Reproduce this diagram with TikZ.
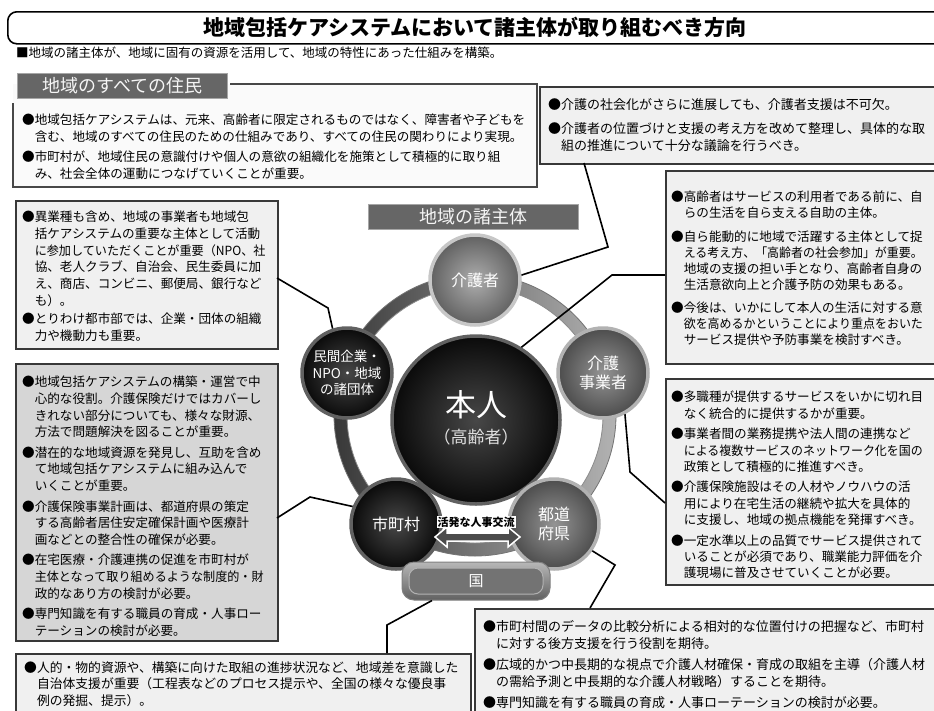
\documentclass[tikz,border=0pt]{standalone}
\usepackage{fontspec}
\usepackage{graphicx}
\setmainfont{Noto Sans CJK JP}
\usetikzlibrary{calc}
\newcommand\ind{\phantom{●}}
\newcommand\fs[2]{\fontsize{#1}{#2}\selectfont}
\newcommand\sq[2][0.95]{\scalebox{#1}[1]{#2}}
\begin{document}
\begin{tikzpicture}[x=1pt,y=-1pt,
  cbox/.style={draw=black!78, line width=1.8pt, fill=black!6, anchor=north west, inner sep=0pt},
  txt/.style={anchor=north west, align=left, inner sep=0pt},
  conn/.style={draw=black, line width=1.6pt},
  sat/.style n args={3}{circle, minimum size=90pt, inner sep=0pt, text=white, align=center,
     font=\fs{16}{19}, draw=#3, line width=3.5pt, inner color=#1, outer color=#2},
  lbl/.style={fill=black!60, draw=black!35, line width=1pt, text=black!4, inner sep=0pt}
]
\clip (0,0) rectangle (934,710);
\fill[white] (0,0) rectangle (934,710);

% title
\node[draw=black, line width=1.6pt, rounded corners=9pt, minimum width=950pt, minimum height=32pt,
      anchor=north west, inner sep=0pt] (titlebox) at (7,11) {};
\node[font=\fs{21}{24}\bfseries] (title) at (475,27) {地域包括ケアシステムにおいて諸主体が取り組むべき方向};
\node[anchor=west, font=\fs{12.5}{14}, inner sep=0pt] (sub) at (16,53)
  {■地域の諸主体が、地域に固有の資源を活用して、地域の特性にあった仕組みを構築。};

% residents box
\fill[black!2] (13,84) rectangle (537,187);
\draw[black!72, line width=1.8pt] (230,84) -- (537,84) -- (537,187) -- (13,187) -- (13,103);
\node[lbl, minimum width=210pt, minimum height=25pt, anchor=north west, font=\fs{18}{20}] (reslabel) at (17,73) {地域のすべての住民};
\node[txt, font=\fs{12.6}{16.8}] (restxt) at (22,114) {●地域包括ケアシステムは、元来、高齢者に限定されるものではなく、障害者や子どもを\\\ind 含む、地域のすべての住民のための仕組みであり、すべての住民の関わりにより実現。\\[3.4pt]●市町村が、地域住民の意識付けや個人の意欲の組織化を施策として積極的に取り組\\\ind み、社会全体の運動につなげていくことが重要。};

% caregiver box
\node[cbox, minimum width=406pt, minimum height=77pt] (kbox) at (539,86) {};
\node[txt, font=\fs{13}{16.5}] (ktxt) at (548,98) {●介護の社会化がさらに進展しても、介護者支援は不可欠。\\[8pt]●介護者の位置づけと支援の考え方を改めて整理し、具体的な取\\\ind 組の推進について十分な議論を行うべき。};

% private sector box
\node[cbox, minimum width=262pt, minimum height=148pt] (mbox) at (15,200) {};
\node[txt, font=\fs{12.6}{16.7}] (mtxt) at (22,211) {●異業種も含め、地域の事業者も地域包\\\ind 括ケアシステムの重要な主体として活動\\\ind \sq[0.96]{に参加していただくことが重要（NPO、社}\\\ind 協、老人クラブ、自治会、民生委員に加\\\ind え、商店、コンビニ、郵便局、銀行など\\\ind も）。\\[1.5pt]●とりわけ都市部では、企業・団体の組織\\\ind 力や機動力も重要。};

% municipality box
\node[cbox, fill=black!16, minimum width=262pt, minimum height=277pt] (sbox) at (15,363) {};
\node[txt, font=\fs{12.6}{16.6}] (stxt) at (22,376) {●地域包括ケアシステムの構築・運営で中\\\ind 心的な役割。介護保険だけではカバーし\\\ind きれない部分についても、様々な財源、\\\ind 方法で問題解決を図ることが重要。\\[4pt]●潜在的な地域資源を発見し、互助を含め\\\ind て地域包括ケアシステムに組み込んで\\\ind いくことが重要。\\[4pt]●介護保険事業計画は、都道府県の策定\\\ind する高齢者居住安定確保計画や医療計\\\ind 画などとの整合性の確保が必要。\\[4pt]●在宅医療・介護連携の促進を市町村が\\\ind \sq[0.96]{主体となって取り組めるような制度的・財}\\\ind 政的なあり方の検討が必要。\\[4pt]●専門知識を有する職員の育成・人事ロー\\\ind テーションの検討が必要。};

% elderly box
\node[cbox, minimum width=280pt, minimum height=193pt] (hbox) at (665,170) {};
\node[txt, font=\fs{12.6}{16}] (htxt) at (671,191) {●高齢者はサービスの利用者である前に、自\\\ind らの生活を自ら支える自助の主体。\\[7.5pt]●自ら能動的に地域で活躍する主体として捉\\\ind \sq{える考え方、「高齢者の社会参加」が重要。}\\\ind 地域の支援の担い手となり、高齢者自身の\\\ind 生活意欲向上と介護予防の効果もある。\\[7.5pt]●今後は、いかにして本人の生活に対する意\\\ind \sq{欲を高めるかということにより重点をおいた}\\\ind サービス提供や予防事業を検討すべき。};

% care provider box
\node[cbox, minimum width=280pt, minimum height=206pt] (jbox) at (665,378) {};
\node[txt, font=\fs{12.6}{16.4}] (jtxt) at (671,391) {●多職種が提供するサービスをいかに切れ目\\\ind なく統合的に提供するかが重要。\\[4pt]●事業者間の業務提携や法人間の連携など\\\ind \sq{による複数サービスのネットワーク化を国の}\\\ind 政策として積極的に推進すべき。\\[4pt]●介護保険施設はその人材やノウハウの活\\\ind 用により在宅生活の継続や拡大を具体的\\\ind に支援し、地域の拠点機能を発揮すべき。\\[4pt]●一定水準以上の品質でサービス提供されて\\\ind いることが必須であり、職業能力評価を介\\\ind 護現場に普及させていくことが必要。};

% prefecture box
\node[cbox, minimum width=471pt, minimum height=112pt] (tbox) at (474,608) {};
\node[txt, font=\fs{13}{17}] (ttxt) at (483,620) {●市町村間のデータの比較分析による相対的な位置付けの把握など、市町村\\\ind に対する後方支援を行う役割を期待。\\[4pt]●広域的かつ中長期的な視点で介護人材確保・育成の取組を主導（介護人材\\\ind の需給予測と中長期的な介護人材戦略）することを期待。\\[4pt]●専門知識を有する職員の育成・人事ローテーションの検討が必要。};

% national box
\node[cbox, minimum width=455pt, minimum height=67pt] (nbox) at (15,653) {};
\node[txt, font=\fs{12.8}{16.5}] (ntxt) at (24,661) {●人的・物的資源や、構築に向けた取組の進捗状況など、地域差を意識した\\\ind 自治体支援が重要（工程表などのプロセス提示や、全国の様々な優良事\\\ind 例の発掘、提示）。};

% central label
\node[lbl, minimum width=210pt, minimum height=25pt, font=\fs{18}{20}] (shutai) at (473,217) {地域の諸主体};

% ring
\coordinate (ringc) at (475,415);
\shade[even odd rule, left color=black!78, right color=black!30] (ringc) circle (141pt) (ringc) circle (128pt);
\draw[black!55, line width=0.8pt] (ringc) circle (141pt);
\draw[black!45, line width=0.8pt] (ringc) circle (128pt);

% central and satellite circles
\node[circle, minimum size=168pt, inner sep=0pt, inner color=black!72, outer color=black!96, draw=black!62, line width=3.5pt] (honnin) at (476,420) {};
\node[text=white, font=\fs{31}{34}] (honnintxt) at (476,405) {本人};
\node[text=black!12, font=\fs{17}{20}] (koreisha) at (476,437) {（高齢者）};

\node[sat={black!32}{black!62}{black!22}] (kaigosha) at (475,280) {介護者};
\node[sat={black!42}{black!70}{black!30}] (jigyo) at (603,373) {介護\\事業者};
\node[sat={black!42}{black!70}{black!30}] (todo) at (554,524) {都道\\府県};
\node[sat={black!72}{black!96}{black!62}] (shicho) at (396,524) {市町村};
\node[sat={black!72}{black!96}{black!62}, font=\fs{13.5}{16.5}] (minkan) at (347,373) {民間企業・\\NPO・地域\\の諸団体};

% national node
\node[rounded corners=12pt, minimum width=148pt, minimum height=38pt, top color=black!28, bottom color=black!62,
      draw=black!50, line width=1pt] (kuniouter) at (476,581) {};
\node[rounded corners=9pt, minimum width=134pt, minimum height=26pt, fill=black!55, draw=black!30,
      line width=1pt, text=white, font=\fs{15}{17}] (kuni) at (476,581) {国};

% exchange arrow
\filldraw[fill=black!70, draw=white, line width=1.5pt] (435,537) -- (447,527) -- (447,533) -- (508,533) -- (508,527)
   -- (520,537) -- (508,547) -- (508,541) -- (447,541) -- (447,547) -- cycle;
\node[fill=white, inner sep=1pt, font=\fs{11}{12}\bfseries] (xlabel) at (476,522) {活発な人事交流};

% connectors
\coordinate (k1) at (608,247); \coordinate (k1e) at (584,163);
\draw[conn] (kaigosha.6) -- (k1) -- (k1e);
\coordinate (h1) at (612,275); \coordinate (h1e) at (665,275);
\draw[conn] (honnin.58) -- (h1) -- (h1e);
\coordinate (j1) at (630,472); \coordinate (j1e) at (665,503);
\draw[conn] (jigyo.-62) -- (j1) -- (j1e);
\coordinate (t1) at (615,565); \coordinate (t1e) at (590,608);
\draw[conn] (todo.-35) -- (t1) -- (t1e);
\coordinate (n1) at (387,625); \coordinate (n1e) at (387,653);
\draw[conn] ($(kuniouter.south)+(-44,0)$) -- (n1) -- (n1e);
\coordinate (s1) at (310,497); \coordinate (s1e) at (277,518);
\draw[conn] (shicho.158) -- (s1) -- (s1e);
\coordinate (m1) at (328,308); \coordinate (m1e) at (277,278);
\draw[conn] (minkan.108) -- (m1) -- (m1e);
\end{tikzpicture}
\end{document}
